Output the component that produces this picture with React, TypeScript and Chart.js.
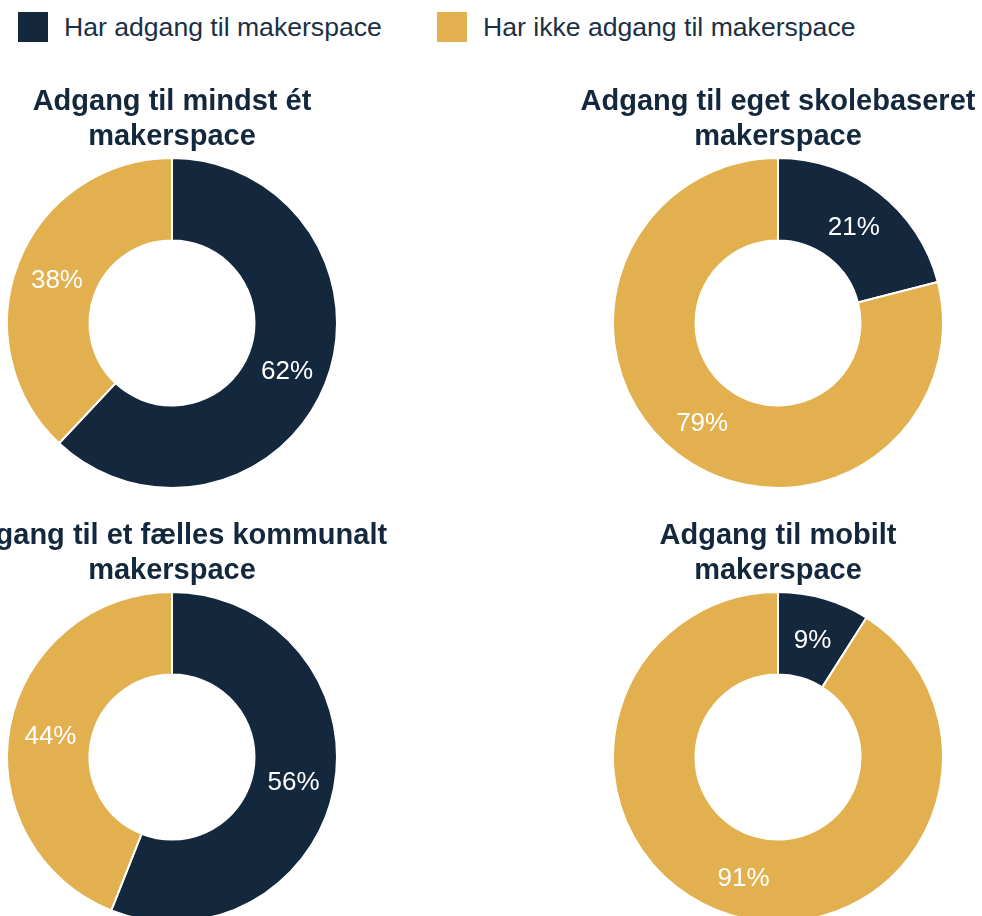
import React, { useEffect, useRef } from "react";
import { Chart, registerables } from "chart.js";

Chart.register(...registerables);

const categories = ["Har adgang til makerspace", "Har ikke adgang til makerspace"];
const chartTitles = [
  ["Adgang til mindst ét", "makerspace"],
  ["Adgang til eget skolebaseret", "makerspace"],
  ["Adgang til et fælles kommunalt", "makerspace"],
  ["Adgang til mobilt", "makerspace"],
];
const hasAccess = [62, 21, 56, 9];
const noAccess = [38, 79, 44, 91];

const NAVY = "#13283d";
const GOLD = "#e2b04e";
const FONT = "'Liberation Sans', Arial, Helvetica, sans-serif";

const CANVAS_W = 600;
const CANVAS_H = 408;
const slots = [
  { cx: 172, top: 81 },
  { cx: 778, top: 81 },
  { cx: 172, top: 515 },
  { cx: 778, top: 515 },
];

const sliceLabels = {
  id: "sliceLabels",
  afterDatasetsDraw(chart: any) {
    const ctx = chart.ctx;
    const meta = chart.getDatasetMeta(0);
    const data = chart.data.datasets[0].data;
    ctx.save();
    ctx.font = `26px ${FONT}`;
    ctx.fillStyle = "#ffffff";
    ctx.textAlign = "center";
    ctx.textBaseline = "middle";
    meta.data.forEach((arc: any, i: number) => {
      const p = arc.getCenterPoint();
      ctx.fillText(`${data[i]}%`, p.x, p.y + 3);
    });
    ctx.restore();
  },
};

function Donut({ index }: { index: number }) {
  const ref = useRef<HTMLCanvasElement | null>(null);
  useEffect(() => {
    if (!ref.current) return;
    const chart = new Chart(ref.current, {
      type: "doughnut",
      data: {
        labels: categories,
        datasets: [
          {
            data: [hasAccess[index], noAccess[index]],
            backgroundColor: [NAVY, GOLD],
            borderColor: "#ffffff",
            borderWidth: 2,
          },
        ],
      },
      options: {
        responsive: false,
        maintainAspectRatio: false,
        animation: false,
        cutout: "50%",
        layout: { padding: 0 },
        plugins: {
          legend: { display: false },
          tooltip: { enabled: false },
          title: {
            display: true,
            text: chartTitles[index],
            color: NAVY,
            font: { family: FONT, size: 29, weight: "bold", lineHeight: 35 / 29 },
            padding: { top: 3, bottom: 3 },
          },
        },
      },
      plugins: [sliceLabels],
    } as any);
    return () => chart.destroy();
  }, [index]);
  const s = slots[index];
  return (
    <canvas
      ref={ref}
      width={CANVAS_W}
      height={CANVAS_H}
      style={{
        position: "absolute",
        left: s.cx - CANVAS_W / 2,
        top: s.top,
        width: CANVAS_W,
        height: CANVAS_H,
        display: "block",
      }}
    />
  );
}

export default function App() {
  const legendColors = [NAVY, GOLD];
  const legendX = [18, 437];
  return (
    <div
      style={{
        position: "fixed",
        left: 0,
        top: 0,
        width: 982,
        height: 916,
        overflow: "hidden",
        background: "#ffffff",
        fontFamily: FONT,
      }}
    >
      {categories.map((c, i) => (
        <div
          key={c}
          style={{
            position: "absolute",
            left: legendX[i],
            top: 12,
            height: 30,
            display: "flex",
            alignItems: "center",
            whiteSpace: "nowrap",
          }}
        >
          <span style={{ display: "inline-block", width: 30, height: 30, background: legendColors[i] }} />
          <span style={{ marginLeft: 16, fontSize: 26.6, color: "#1b3045", lineHeight: "30px" }}>{c}</span>
        </div>
      ))}
      {[0, 1, 2, 3].map((i) => (
        <Donut key={i} index={i} />
      ))}
    </div>
  );
}
